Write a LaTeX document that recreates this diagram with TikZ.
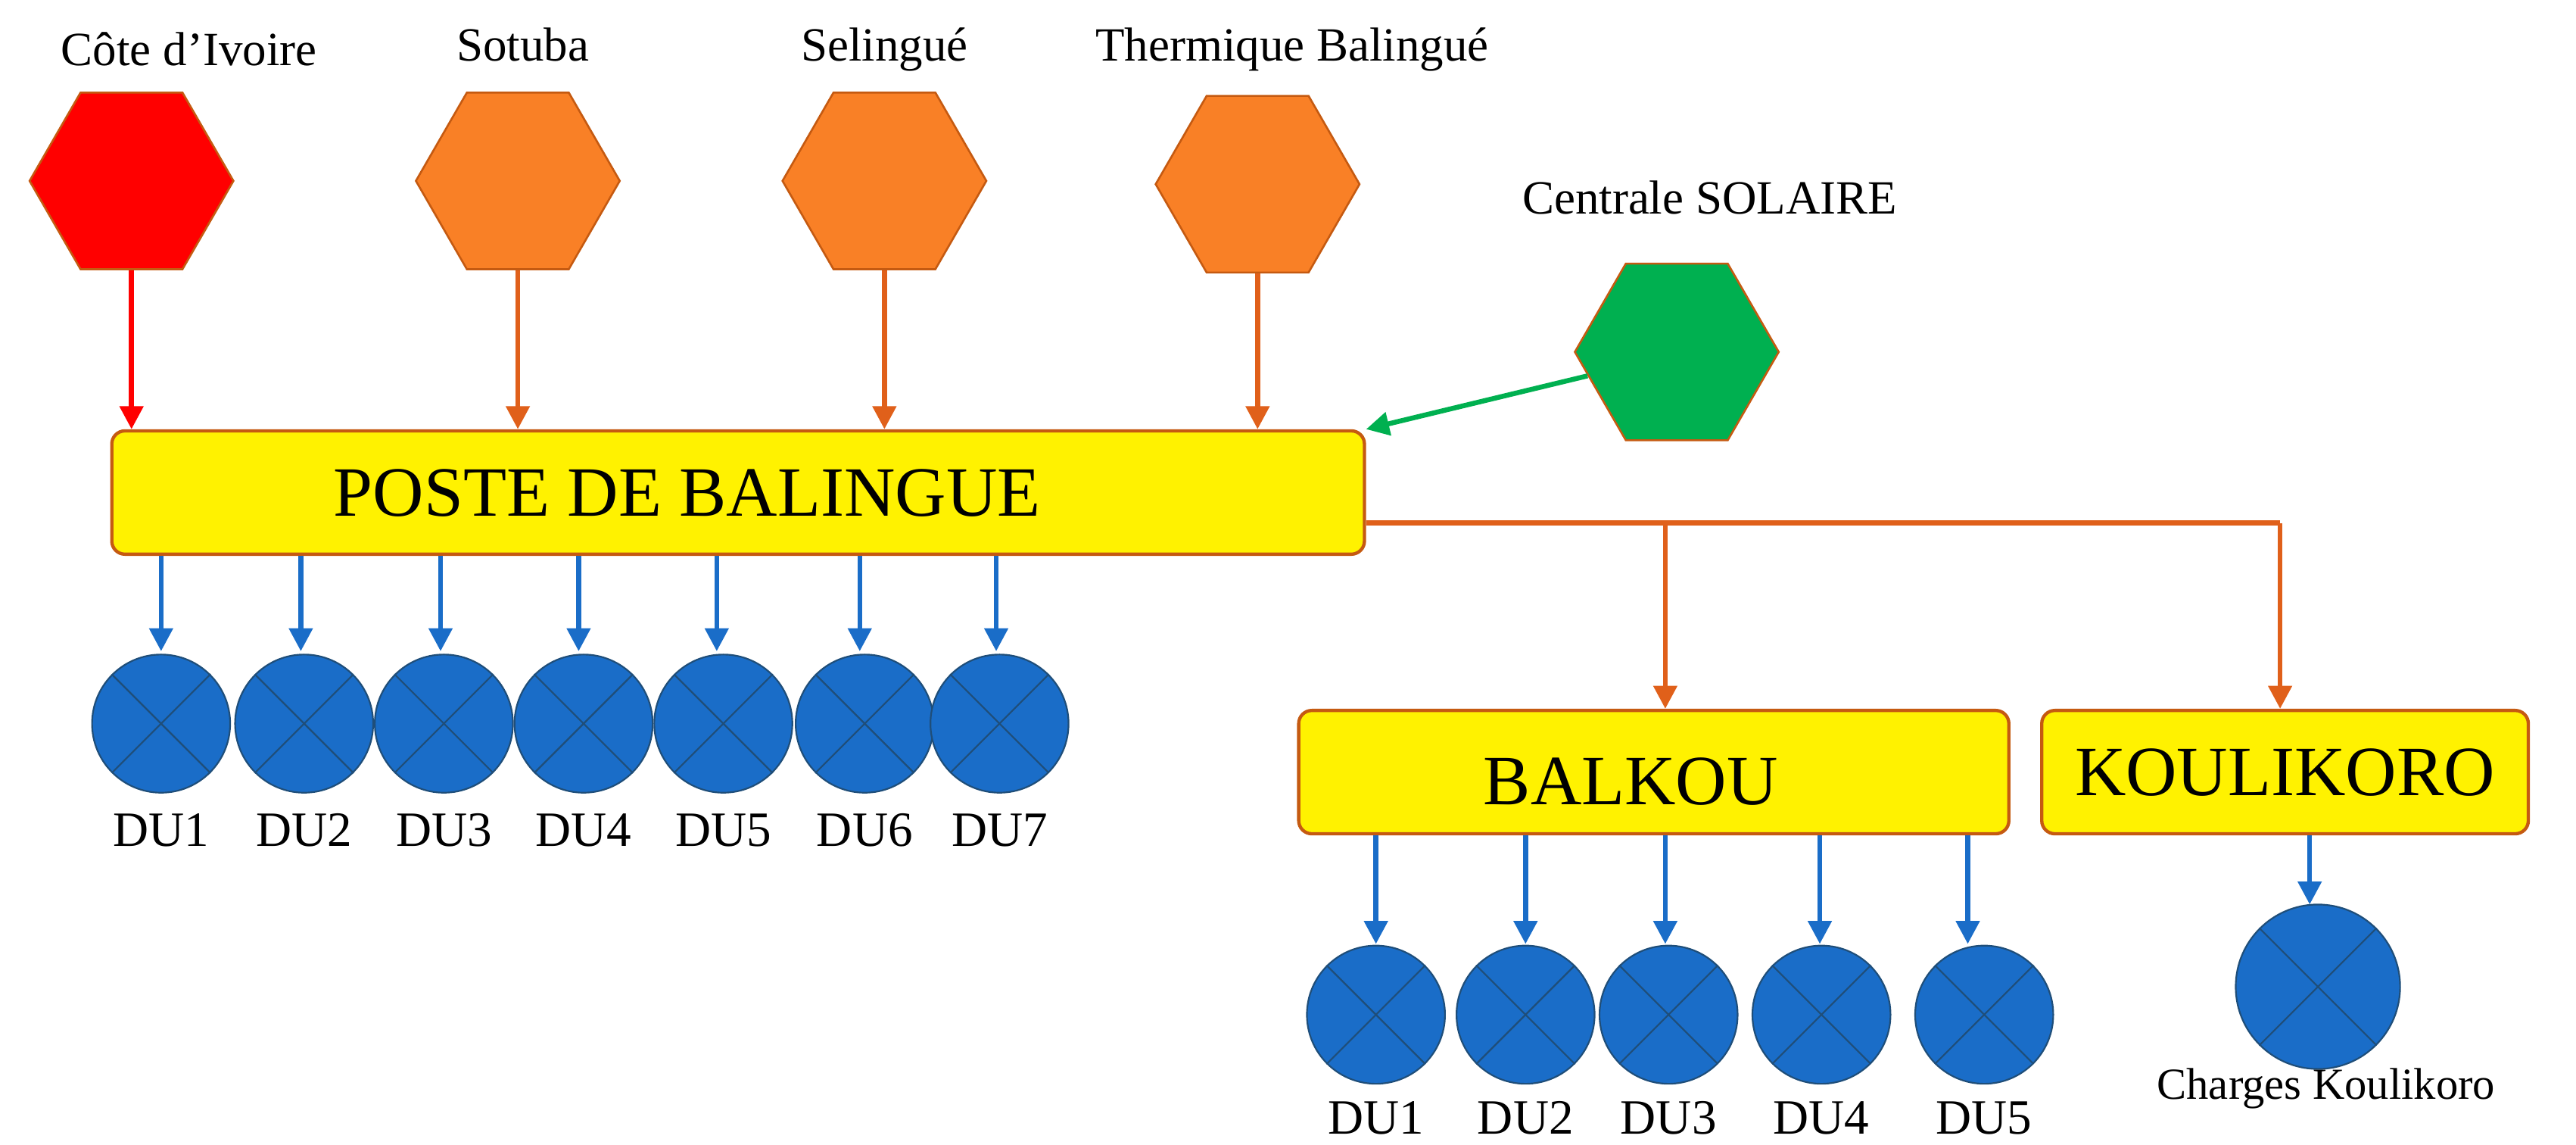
\documentclass[tikz,border=0pt]{standalone}
\usepackage{fontspec}
\setmainfont{Liberation Serif}
\usetikzlibrary{shapes.geometric,arrows.meta}
\definecolor{hexor}{HTML}{F98026}
\definecolor{hexbd}{HTML}{C55A11}
\definecolor{arror}{HTML}{E0601A}
\definecolor{dublue}{HTML}{1A6DC8}
\definecolor{dubd}{HTML}{1F4E79}
\definecolor{solg}{HTML}{00B050}
\begin{document}
\begin{tikzpicture}[x=1pt,y=-1pt,
 hexa/.style={regular polygon,regular polygon sides=6,shape border rotate=0,minimum size=124pt,inner sep=0pt,draw=hexbd,line width=1.2pt},
 lbl/.style={font=\fontsize{29}{32}\selectfont,inner sep=0pt},
 box/.style={draw=hexbd,line width=2pt,fill=yellow,rounded corners=8pt,inner sep=0pt,font=\fontsize{43}{46}\selectfont},
 du/.style={circle,fill=dublue,draw=dubd,line width=1pt,minimum size=#1,inner sep=0pt},
 du/.default=84pt,
 oa/.style={draw=arror,line width=3pt,-{Triangle[length=14pt,width=14pt]}},
 ba/.style={draw=dublue,line width=3pt,-{Triangle[length=14pt,width=14pt]}}]
\useasboundingbox (0,0) rectangle (1567,696);
% hexagons
\node[hexa,fill=red] (ci) at (80,110) {};
\node[hexa,fill=hexor] (so) at (315,110) {};
\node[hexa,fill=hexor] (se) at (538,110) {};
\node[hexa,fill=hexor] (th) at (765,112) {};
\node[hexa,fill=solg] (cs) at (1020,214) {};
\node[lbl] (lci) at (115,30) {Côte d'Ivoire};
\node[lbl] (lso) at (318,27) {Sotuba};
\node[lbl] (lse) at (538,30) {Selingué};
\node[lbl] (lth) at (786,30) {Thermique Balingué};
\node[lbl] (lcs) at (1040,120) {Centrale SOLAIRE};
% boxes
\node[box,minimum width=762pt,minimum height=75pt] (pb) at (449,299.5) {};
\node[font=\fontsize{43}{46}\selectfont,inner sep=0pt] (pbt) at (418,300) {POSTE DE BALINGUE};
\node[box,minimum width=432pt,minimum height=75pt] (bk) at (1006,469.5) {};
\node[font=\fontsize{43}{46}\selectfont,inner sep=0pt] (bkt) at (992,475) {BALKOU};
\node[box,minimum width=296pt,minimum height=75pt] (kk) at (1390,469.5) {KOULIKORO};
% arrows into poste
\draw[oa,draw=red] (ci.south) -- (ci.south|-pb.north);
\draw[oa] (so.south) -- (so.south|-pb.north);
\draw[oa] (se.south) -- (se.south|-pb.north);
\draw[oa] (th.south) -- (th.south|-pb.north);
\draw[draw=solg,line width=3pt,-{Triangle[length=14pt,width=14pt]}] (cs.195) -- (pb.north east);
% orange distribution
\coordinate (j1) at (1013,318);
\coordinate (j2) at (1387,318);
\draw[draw=arror,line width=3pt] (pb.east|-j1) -- (j2);
\draw[oa] (j1) -- (j1|-bk.north);
\draw[oa] (j2) -- (j2|-kk.north);
% DU poste
\foreach \i/\x/\ax in {1/98/98,2/185/183,3/270/268,4/355/352,5/440/436,6/526/523,7/608/606}{
 \node[du] (p\i) at (\x,440) {};
 \draw[dubd,line width=1pt] (p\i.45)--(p\i.225) (p\i.135)--(p\i.315);
 \node[lbl,font=\fontsize{30}{33}\selectfont] (pl\i) at (\x,505) {DU\i};
 \coordinate (pa\i) at (\ax,338);
 \draw[ba] (pa\i) -- (\ax,396);
}
% DU balkou
\foreach \i/\x/\ax in {1/837/837,2/928/928,3/1015/1013,4/1108/1107,5/1207/1197}{
 \node[du] (b\i) at (\x,617) {};
 \draw[dubd,line width=1pt] (b\i.45)--(b\i.225) (b\i.135)--(b\i.315);
 \node[lbl,font=\fontsize{30}{33}\selectfont] (bl\i) at (\x,680) {DU\i};
 \coordinate (ba\i) at (\ax,508);
 \draw[ba] (ba\i) -- (\ax,574);
}
\node[du=100pt] (kc) at (1410,600) {};
\draw[dubd,line width=1pt] (kc.45)--(kc.225) (kc.135)--(kc.315);
\node[lbl,font=\fontsize{27}{30}\selectfont] (kl) at (1415,662) {Charges Koulikoro};
\coordinate (ka) at (1405,508);
\draw[ba] (ka) -- (1405,550);
\end{tikzpicture}
\end{document}
